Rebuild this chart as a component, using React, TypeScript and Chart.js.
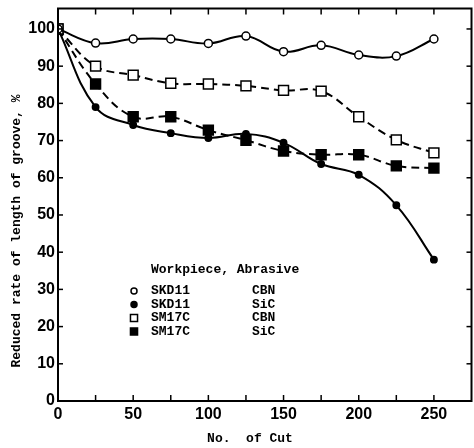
import React, { useEffect, useRef } from 'react';
import { Chart, registerables } from 'chart.js';

Chart.register(...registerables);

// ---- data ----
const cuts = [0, 25, 50, 75, 100, 125, 150, 175, 200, 225, 250];
const skd11Cbn = [100, 96.2, 97.3, 97.3, 96.1, 98.1, 93.9, 95.6, 93.0, 92.7, 97.3];
const skd11Sic = [100, 79.0, 74.2, 72.0, 70.7, 71.8, 69.4, 63.7, 60.8, 52.6, 38.0];
const sm17cCbn = [100, 90.0, 87.6, 85.4, 85.2, 84.7, 83.5, 83.3, 76.4, 70.2, 66.7];
const sm17cSic = [100, 85.2, 76.4, 76.4, 72.8, 70.1, 67.2, 66.2, 66.2, 63.2, 62.6];

const workpieces = ['SKD11', 'SKD11', 'SM17C', 'SM17C'];
const abrasives = ['CBN', 'SiC', 'CBN', 'SiC'];
const legendTitle = 'Workpiece, Abrasive';
const xTitle = 'No.  of Cut';
const yTitle = 'Reduced rate of length of groove, %';

const MONO = '"Liberation Mono", "DejaVu Sans Mono", monospace';
const TICKFONT = '"Liberation Sans", "DejaVu Sans", sans-serif';

const pts = (ys: number[]) => cuts.map((x, i) => ({ x, y: ys[i] }));

const markerDraw = (ctx: CanvasRenderingContext2D, ds: any, x: number, y: number) => {
  ctx.save();
  ctx.lineWidth = ds.pointBorderWidth;
  ctx.strokeStyle = ds.pointBorderColor;
  ctx.fillStyle = ds.pointBackgroundColor;
  ctx.beginPath();
  if (ds.pointStyle === 'rect') {
    const s = ds.pointRadius * Math.SQRT1_2;
    ctx.rect(x - s, y - s, 2 * s, 2 * s);
  } else {
    ctx.arc(x, y, ds.pointRadius, 0, Math.PI * 2);
  }
  ctx.fill();
  ctx.stroke();
  ctx.restore();
};

const framePlugin = {
  id: 'frameTicksLegend',
  afterDraw(chart: any) {
    const { ctx, chartArea } = chart;
    const { left, right, top, bottom } = chartArea;
    const xs = chart.scales.x;
    const ys = chart.scales.y;
    ctx.save();
    ctx.strokeStyle = '#000';
    ctx.lineWidth = 2;
    ctx.strokeRect(left, top, right - left, bottom - top);
    ctx.lineWidth = 1.5;
    const line = (a: number, b: number, c: number, d: number) => {
      ctx.beginPath();
      ctx.moveTo(a, b);
      ctx.lineTo(c, d);
      ctx.stroke();
    };
    xs.ticks.forEach((t: any) => {
      const px = xs.getPixelForValue(t.value);
      if (px <= left + 1 || px >= right - 1) return;
      line(px, bottom, px, bottom - 6);
      line(px, top, px, top + 6);
    });
    ys.ticks.forEach((t: any) => {
      const py = ys.getPixelForValue(t.value);
      if (py >= bottom - 1 || py <= top + 1) return;
      line(left, py, left + 5, py);
      line(right, py, right - 5, py);
    });

    ctx.fillStyle = '#000';
    ctx.font = `bold 13px ${MONO}`;

    // x-axis title
    ctx.textAlign = 'center';
    ctx.textBaseline = 'middle';
    ctx.fillText(xTitle, 250, 439);

    // y-axis title
    ctx.save();
    ctx.translate(17, 231);
    ctx.rotate(-Math.PI / 2);
    ctx.textAlign = 'center';
    ctx.textBaseline = 'middle';
    ctx.fillText(yTitle, 0, 0);
    ctx.restore();

    // legend
    const lx = xs.getPixelForValue(0) + 93;
    ctx.textAlign = 'left';
    ctx.textBaseline = 'middle';
    ctx.fillText(legendTitle, lx, 270);
    chart.data.datasets.forEach((ds: any, i: number) => {
      const yy = 291 + i * 13.5;
      markerDraw(ctx, { ...ds, pointRadius: ds.pointStyle === 'rect' ? 5 : 3 }, lx - 17, yy);
      ctx.fillStyle = '#000';
      ctx.fillText(workpieces[i], lx, yy);
      ctx.fillText(abrasives[i], lx + 101, yy);
    });
    ctx.restore();
  },
};

const CANVAS_W = 480;

export default function App() {
  const ref = useRef<HTMLCanvasElement | null>(null);
  useEffect(() => {
    document.body.style.margin = '0';
    document.body.style.overflow = 'hidden';
    if (!ref.current) return;
    const common = { borderColor: '#000', pointBorderColor: '#000', borderWidth: 2, tension: 0.4, fill: false, pointBorderWidth: 1.5 };
    const chart = new Chart(ref.current, {
      type: 'line',
      data: {
        datasets: [
          { ...common, label: 'SKD11 CBN', data: pts(skd11Cbn), pointStyle: 'circle', pointRadius: 4, pointBackgroundColor: '#fff' },
          { ...common, label: 'SKD11 SiC', data: pts(skd11Sic), pointStyle: 'circle', pointRadius: 3.2, pointBackgroundColor: '#000' },
          { ...common, label: 'SM17C CBN', data: pts(sm17cCbn), pointStyle: 'rect', pointRadius: 7, pointBackgroundColor: '#fff', borderDash: [8, 5] },
          { ...common, label: 'SM17C SiC', data: pts(sm17cSic), pointStyle: 'rect', pointRadius: 7, pointBackgroundColor: '#000', borderDash: [8, 5] },
        ] as any,
      },
      options: {
        animation: false,
        responsive: false,
        maintainAspectRatio: false,
        layout: { padding: { top: 7, right: 0, left: 0, bottom: 0 } },
        plugins: { legend: { display: false }, tooltip: { enabled: false } },
        scales: {
          x: {
            type: 'linear',
            min: 0,
            max: 275,
            grid: { display: false, drawTicks: false },
            border: { display: false },
            ticks: {
              stepSize: 25,
              autoSkip: false,
              maxRotation: 0,
              includeBounds: false,
              padding: 4,
              color: '#000',
              font: { family: TICKFONT, size: 16, weight: 'bold' },
              callback: (v: any) => (Number(v) % 50 === 0 ? String(v) : ''),
            },
            afterFit: (s: any) => { s.height = 47; s.paddingLeft = 0; s.paddingRight = 0; },
          },
          y: {
            min: 0,
            max: 105.5,
            grid: { display: false, drawTicks: false },
            border: { display: false },
            ticks: {
              stepSize: 10,
              includeBounds: false,
              padding: 3,
              color: '#000',
              font: { family: TICKFONT, size: 16, weight: 'bold' },
            },
            afterFit: (s: any) => { s.width = 58; s.paddingTop = 0; s.paddingBottom = 0; },
          },
        },
      } as any,
      plugins: [framePlugin],
    });
    return () => chart.destroy();
  }, []);
  return (
    <div style={{ width: 474, height: 448, overflow: 'hidden' }}>
      <canvas ref={ref} width={CANVAS_W} height={448} style={{ width: CANVAS_W, height: 448, display: 'block' }} />
    </div>
  );
}
